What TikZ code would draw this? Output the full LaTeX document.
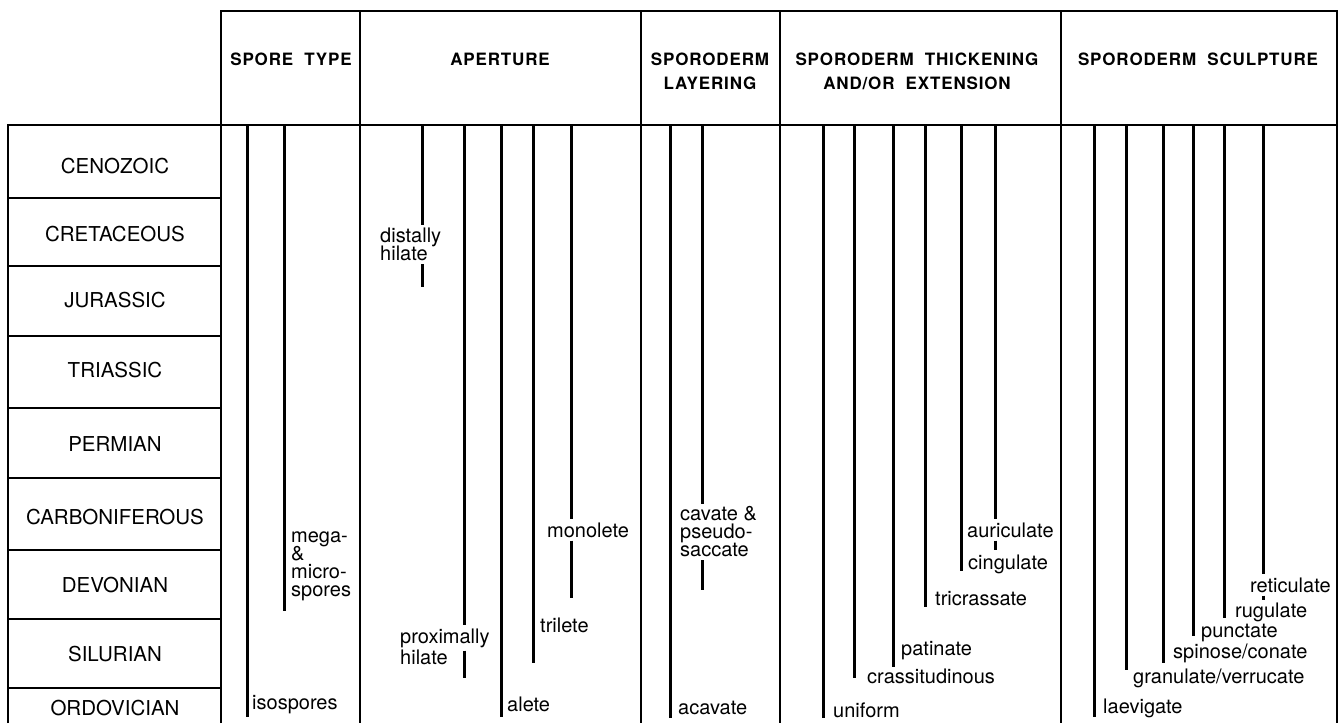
\documentclass[tikz,border=0pt]{standalone}
\usepackage{fontspec}
\setmainfont{TeX Gyre Heros}
\newfontfamily\headfont[LetterSpace=5]{TeX Gyre Heros}

\begin{document}
\begin{tikzpicture}[x=1pt, y=-1pt,
	frame/.style={line width=1.3pt},
	bar/.style={line width=3pt},
	era/.style={font=\fontsize{20.5}{24}\selectfont, inner sep=0pt},
	head/.style={font={\headfont\bfseries\fontsize{17}{24}\selectfont}, align=center, inner sep=0pt},
	lbl/.style={font={\fontsize{20}{18}\selectfont\lineskiplimit=-20pt}, inner xsep=0pt, inner ysep=3pt, align=left}]
	\useasboundingbox (0, 0) rectangle (1343, 723);

	\draw[frame] (221, 723) |- (1337, 11) -- (1337, 723);
	\draw[frame] (8, 723) |- (1337, 125);
	\draw[frame] (360, 11) -- (360, 723);
	\draw[frame] (641, 11) -- (641, 723);
	\draw[frame] (780, 11) -- (780, 723);
	\draw[frame] (1061, 11) -- (1061, 723);
	\draw[frame] (8, 198) -- (221, 198);
	\draw[frame] (8, 266) -- (221, 266);
	\draw[frame] (8, 336) -- (221, 336);
	\draw[frame] (8, 408) -- (221, 408);
	\draw[frame] (8, 478) -- (221, 478);
	\draw[frame] (8, 550) -- (221, 550);
	\draw[frame] (8, 619) -- (221, 619);
	\draw[frame] (8, 688) -- (221, 688);

	\node[head] (sporetype)at(291, 59) {SPORE~~TYPE};
	\node[head] (aperture)at(500, 59) {APERTURE};
	\node[head] (layering)at(710, 71) {SPORODERM\\LAYERING};
	\node[head] (thickening)at(917, 71) {SPORODERM~~THICKENING\\AND/OR~~EXTENSION};
	\node[head] (sculpture)at(1198, 59) {SPORODERM~~SCULPTURE};

	\node[era] (cenozoic)at(115, 166.5) {CENOZOIC};
	\node[era] (cretaceous)at(115, 234.5) {CRETACEOUS};
	\node[era] (jurassic)at(115, 300) {JURASSIC};
	\node[era] (triassic)at(115, 370) {TRIASSIC};
	\node[era] (permian)at(115, 444.5) {PERMIAN};
	\node[era] (carboniferous)at(115, 517.5) {CARBONIFEROUS};
	\node[era] (devonian)at(115, 585.5) {DEVONIAN};
	\node[era] (silurian)at(115, 654.5) {SILURIAN};
	\node[era] (ordovician)at(115, 708.5) {ORDOVICIAN};

	\node[lbl, anchor=base west] (isospores)at(252, 709) {isospores};
	\node[lbl, anchor=west] (megamicro)at(291, 566) {mega-\\\&\\micro-\\spores};
	\node[lbl, anchor=west] (distally)at(380, 244.5) {distally\\hilate};
	\node[lbl, anchor=base west] (proximally)at(400, 643) {proximally};
	\node[lbl, anchor=base west] (proxhilate)at(400, 664) {hilate};
	\node[lbl, anchor=base west] (alete)at(507, 711) {alete};
	\node[lbl, anchor=base west] (trilete)at(540, 632) {trilete};
	\node[lbl, anchor=base west] (monolete)at(547, 537) {monolete};
	\node[lbl, anchor=base west] (acavate)at(678, 714) {acavate};
	\node[lbl, anchor=west] (cavate)at(680, 532) {cavate \&\\pseudo-\\saccate};
	\node[lbl, anchor=base west] (uniform)at(833, 717) {uniform};
	\node[lbl, anchor=base west] (crassitudinous)at(867, 683) {crassitudinous};
	\node[lbl, anchor=base west] (patinate)at(901, 655) {patinate};
	\node[lbl, anchor=base west] (tricrassate)at(935, 605) {tricrassate};
	\node[lbl, anchor=base west] (cingulate)at(968, 569) {cingulate};
	\node[lbl, anchor=base west] (auriculate)at(967, 537) {auriculate};
	\node[lbl, anchor=base west] (laevigate)at(1103, 713) {laevigate};
	\node[lbl, anchor=base west] (granulate)at(1133, 683) {granulate/verrucate};
	\node[lbl, anchor=base west] (spinose)at(1173, 658) {spinose/conate};
	\node[lbl, anchor=base west] (punctate)at(1201, 637) {punctate};
	\node[lbl, anchor=base west] (rugulate)at(1235, 617) {rugulate};
	\node[lbl, anchor=base west] (reticulate)at(1250, 592) {reticulate};

	\coordinate (st1)at(247, 125); \coordinate (st1e)at(247, 717);
	\coordinate (st2)at(284, 125); \coordinate (st2e)at(284, 611);
	\coordinate (ap1)at(422, 125); \coordinate (ap1e)at(422, 287);
	\coordinate (ap2)at(464, 125); \coordinate (ap2e)at(464, 678);
	\coordinate (ap3)at(501, 125); \coordinate (ap3e)at(501, 717);
	\coordinate (ap4)at(533, 125); \coordinate (ap4e)at(533, 663);
	\coordinate (ap5)at(571, 125); \coordinate (ap5e)at(571, 598);
	\coordinate (ly1)at(670, 125); \coordinate (ly1e)at(670, 718);
	\coordinate (ly2)at(702, 125); \coordinate (ly2e)at(702, 590);
	\coordinate (th1)at(823, 125); \coordinate (th1e)at(823, 718);
	\coordinate (th2)at(854, 125); \coordinate (th2e)at(854, 678);
	\coordinate (th3)at(893, 125); \coordinate (th3e)at(893, 667);
	\coordinate (th4)at(925, 125); \coordinate (th4e)at(925, 607);
	\coordinate (th5)at(961, 125); \coordinate (th5e)at(961, 571);
	\coordinate (th6)at(995, 125); \coordinate (th6e)at(995, 550);
	\coordinate (sc1)at(1094, 125); \coordinate (sc1e)at(1094, 717);
	\coordinate (sc2)at(1126, 125); \coordinate (sc2e)at(1126, 670);
	\coordinate (sc3)at(1163, 125); \coordinate (sc3e)at(1163, 663);
	\coordinate (sc4)at(1193, 125); \coordinate (sc4e)at(1193, 636);
	\coordinate (sc5)at(1224, 125); \coordinate (sc5e)at(1224, 618);
	\coordinate (sc6)at(1263, 125); \coordinate (sc6e)at(1263, 600);

	\draw[bar] (st1) -- (st1e);
	\draw[bar] (st2) -- (st2e);
	\draw[bar] (ap1) -- (ap1 |- distally.north);
	\draw[bar] (ap1 |- distally.south) -- (ap1e);
	\draw[bar] (ap2) -- (ap2 |- proximally.north);
	\draw[bar] (ap2 |- proximally.south) -- (ap2e);
	\draw[bar] (ap3) -- (ap3e);
	\draw[bar] (ap4) -- (ap4e);
	\draw[bar] (ap5) -- (ap5 |- monolete.north);
	\draw[bar] (ap5 |- monolete.south) -- (ap5e);
	\draw[bar] (ly1) -- (ly1e);
	\draw[bar] (ly2) -- (ly2 |- cavate.north);
	\draw[bar] (ly2 |- cavate.south) -- (ly2e);
	\draw[bar] (th1) -- (th1e);
	\draw[bar] (th2) -- (th2e);
	\draw[bar] (th3) -- (th3e);
	\draw[bar] (th4) -- (th4e);
	\draw[bar] (th5) -- (th5e);
	\draw[bar] (th6) -- (th6 |- auriculate.north);
	\draw[bar] (th6 |- auriculate.south) -- (th6e);
	\draw[bar] (sc1) -- (sc1e);
	\draw[bar] (sc2) -- (sc2e);
	\draw[bar] (sc3) -- (sc3e);
	\draw[bar] (sc4) -- (sc4e);
	\draw[bar] (sc5) -- (sc5e);
	\draw[bar] (sc6) -- (sc6 |- reticulate.north);
	\draw[bar] (sc6 |- reticulate.south) -- (sc6e);
\end{tikzpicture}
\end{document}
